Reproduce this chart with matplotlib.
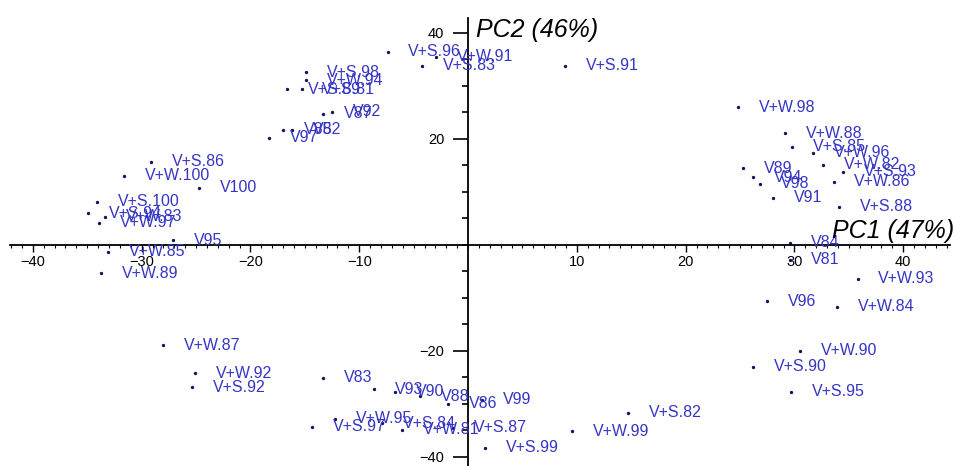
import numpy as np
import matplotlib
matplotlib.use('Agg')
import matplotlib.pyplot as plt
from matplotlib.ticker import MultipleLocator, FixedLocator

plt.rcParams['font.family'] = ['Liberation Sans', 'DejaVu Sans']

# sample names and their scores on PC1 / PC2
labels = ['V+S.96', 'V+W.91', 'V+S.83', 'V+S.91', 'V+S.98', 'V+W.94', 'V+S.89', 'V+S.81',
          'V87', 'V92', 'V85', 'V82', 'V97',
          'V+S.86', 'V+W.100', 'V100', 'V+S.100', 'V+S.94', 'V+W.83', 'V+W.97', 'V95',
          'V+W.85', 'V+W.89',
          'V+W.98', 'V+W.88', 'V+S.85', 'V+W.96', 'V+W.82', 'V+S.93', 'V+W.86', 'V+S.88',
          'V89', 'V94', 'V98', 'V91', 'V84', 'V81',
          'V+W.93', 'V96', 'V+W.84', 'V+W.90', 'V+S.90', 'V+S.95',
          'V+W.87', 'V+W.92', 'V+S.92', 'V83', 'V93', 'V90', 'V88', 'V86', 'V99',
          'V+S.97', 'V+W.95', 'V+S.84', 'V+W.81', 'V+S.87', 'V+S.99', 'V+S.82', 'V+W.99']
pc1 = [-7.4, -2.9, -4.2, 8.9, -14.9, -14.9, -16.6, -15.3,
       -13.3, -12.5, -17.0, -16.2, -18.3,
       -29.1, -31.6, -24.7, -34.1, -34.9, -33.4, -33.9, -27.1,
       -33.1, -33.7,
       24.8, 29.1, 29.8, 31.7, 32.6, 34.5, 33.6, 34.1,
       25.3, 26.2, 26.8, 28.0, 29.6, 29.6,
       35.8, 27.5, 33.9, 30.5, 26.2, 29.7,
       -28.0, -25.1, -25.4, -13.3, -8.6, -6.7, -4.4, -1.8, 1.3,
       -14.3, -12.2, -7.9, -6.1, -1.4, 1.6, 14.7, 9.6]
pc2 = [36.4, 35.5, 33.8, 33.8, 32.6, 31.1, 29.4, 29.4,
       24.7, 25.1, 21.7, 21.7, 20.2,
       15.7, 13.0, 10.8, 8.1, 6.0, 5.3, 4.2, 0.9,
       -1.3, -5.3,
       26.0, 21.1, 18.5, 17.4, 15.1, 13.8, 11.9, 7.2,
       14.5, 12.8, 11.5, 8.9, 0.4, -2.8,
       -6.4, -10.6, -11.7, -20.0, -23.0, -27.7,
       -18.9, -24.2, -26.8, -25.1, -27.2, -27.7, -28.5, -30.0, -29.2,
       -34.3, -32.8, -33.6, -34.9, -34.5, -38.3, -31.7, -35.1]

fig = plt.figure(figsize=(9.56, 4.66), dpi=100)
ax = fig.add_axes([10 / 956, 0, 940 / 956, 1 - 18 / 466])
ax.set_xlim(-42.1, 44.3)
ax.set_ylim(-41.7, 42.8)

ax.plot(pc1, pc2, linestyle='none', marker='o', markersize=1.4, color='#14145a')
for name, x, y in zip(labels, pc1, pc2):
    ax.annotate(name, (x, y), xytext=(15, 0), textcoords='offset points',
                va='center', ha='left', fontsize=11.5, color='#3535c4')

# axes through the origin
for s in ['top', 'right']:
    ax.spines[s].set_visible(False)
ax.spines['left'].set_position(('data', 0))
ax.spines['bottom'].set_position(('data', 0))
ax.spines['left'].set_linewidth(1.3)
ax.spines['bottom'].set_linewidth(1.3)

ax.xaxis.set_major_locator(FixedLocator([-40, -30, -20, -10, 10, 20, 30, 40]))
ax.xaxis.set_minor_locator(MultipleLocator(1))
ax.yaxis.set_major_locator(FixedLocator([-40, -20, 20, 40]))
ax.yaxis.set_minor_locator(MultipleLocator(5))
ax.tick_params(axis='x', which='major', direction='out', length=5, width=1, pad=2, labelsize=10.5)
ax.tick_params(axis='x', which='minor', direction='out', length=2.5, width=0.8)
ax.tick_params(axis='y', which='major', direction='out', length=11, width=1.2, pad=6, labelsize=10.5)
ax.tick_params(axis='y', which='minor', direction='out', length=4.5, width=1.2)

ax.text(0.7, 40.6, 'PC2 (46%)', fontsize=18, style='italic', va='center', ha='left')
ax.text(44.7, 0.3, 'PC1 (47%)', fontsize=18, style='italic', va='bottom', ha='right',
        clip_on=False)

fig.savefig('out.png', dpi=100)
